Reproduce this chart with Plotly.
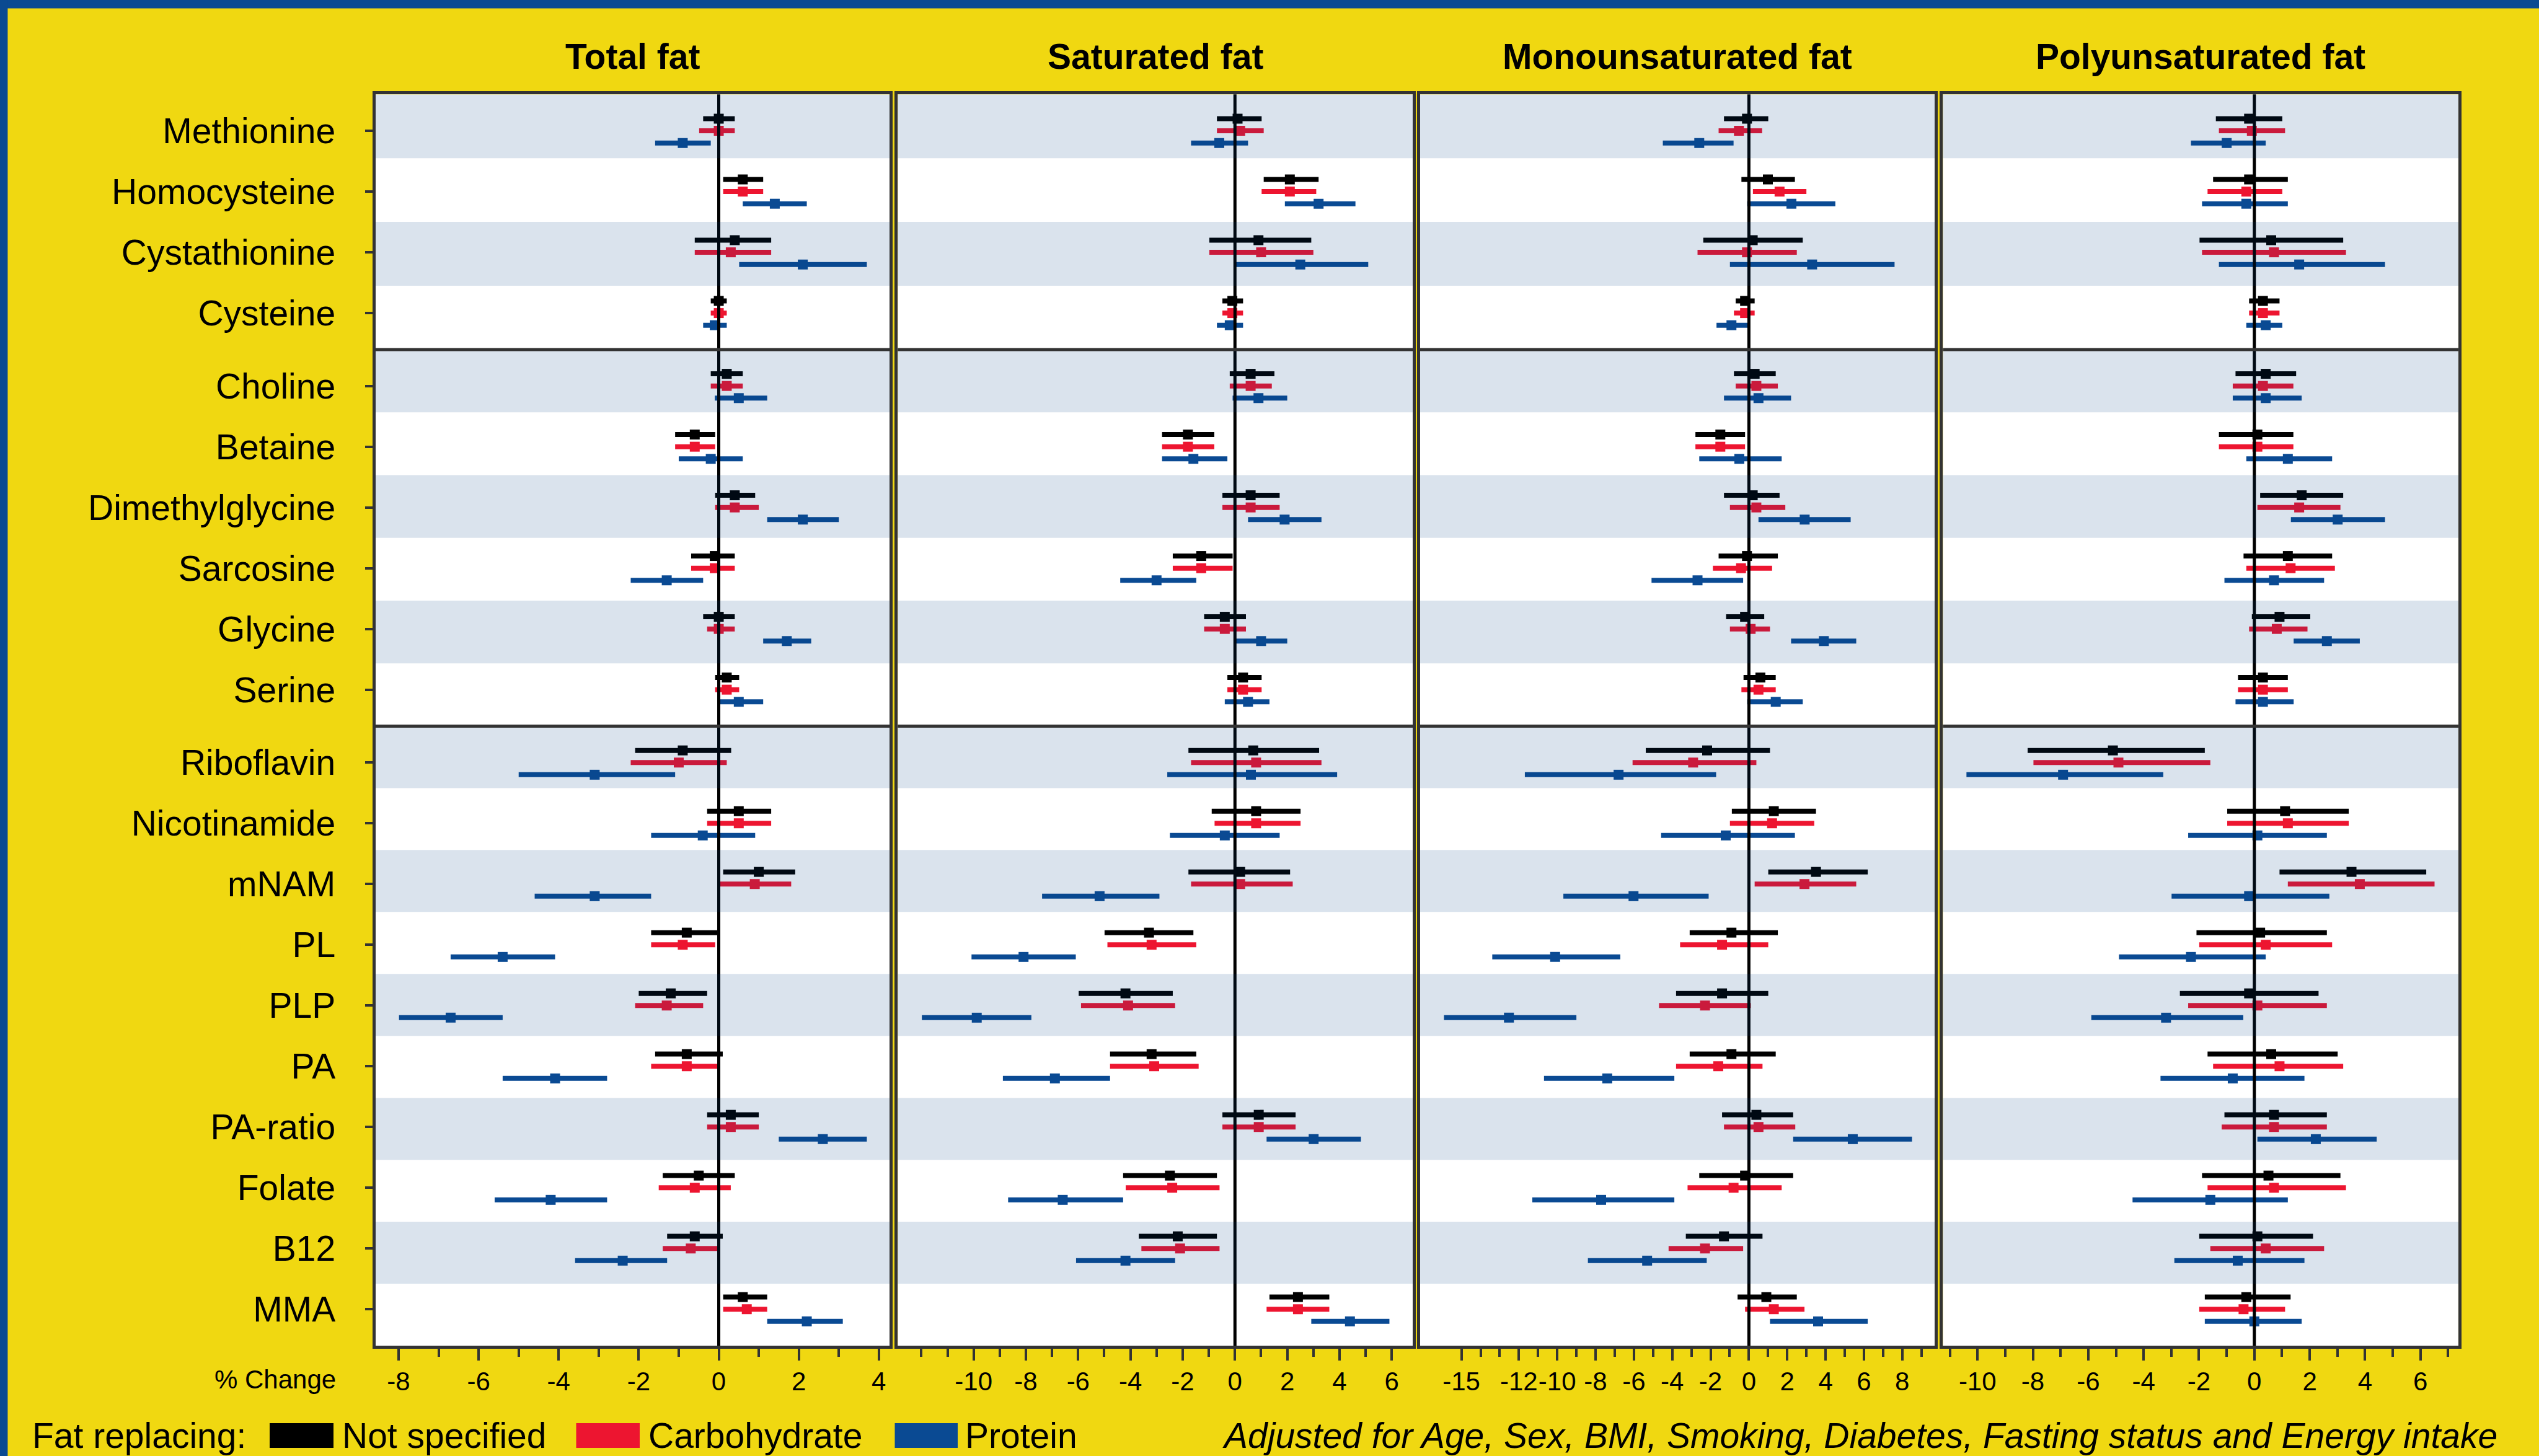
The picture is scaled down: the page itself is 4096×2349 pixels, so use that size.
import plotly.graph_objects as go

# ---------------------------------------------------------------- data
metabolite_groups = [
    ["Methionine", "Homocysteine", "Cystathionine", "Cysteine"],
    ["Choline", "Betaine", "Dimethylglycine", "Sarcosine", "Glycine", "Serine"],
    ["Riboflavin", "Nicotinamide", "mNAM", "PL", "PLP", "PA", "PA-ratio",
     "Folate", "B12", "MMA"],
]
panel_titles = ["Total fat", "Saturated fat", "Monounsaturated fat", "Polyunsaturated fat"]
replacement_names = ["Not specified", "Carbohydrate", "Protein"]

# % change: (estimate, lower 95% CI, upper 95% CI) per metabolite
total_not_specified = [
    (0.0, -0.39, 0.40), (0.6, 0.11, 1.11), (0.4, -0.6, 1.31), (0.0, -0.2, 0.2),
    (0.2, -0.2, 0.6), (-0.6, -1.09, -0.09), (0.4, -0.09, 0.91), (-0.1, -0.69, 0.4),
    (0.0, -0.39, 0.4), (0.2, -0.09, 0.51), (-0.9, -2.09, 0.31), (0.5, -0.29, 1.31),
    (1.0, 0.11, 1.91), (-0.8, -1.69, -0.03), (-1.2, -2.0, -0.29), (-0.8, -1.59, 0.1),
    (0.3, -0.29, 1.0), (-0.5, -1.4, 0.4), (-0.6, -1.29, 0.1), (0.6, 0.11, 1.21),
]
total_carbohydrate = [
    (0.0, -0.49, 0.40), (0.6, 0.11, 1.11), (0.3, -0.6, 1.31), (0.0, -0.2, 0.2),
    (0.2, -0.2, 0.6), (-0.6, -1.09, -0.09), (0.4, -0.09, 1.0), (-0.1, -0.69, 0.4),
    (0.0, -0.29, 0.4), (0.2, -0.09, 0.51), (-1.0, -2.2, 0.2), (0.5, -0.29, 1.31),
    (0.9, 0.01, 1.81), (-0.9, -1.69, -0.09), (-1.3, -2.09, -0.39), (-0.8, -1.69, 0.0),
    (0.3, -0.29, 1.0), (-0.6, -1.5, 0.3), (-0.7, -1.4, 0.0), (0.7, 0.11, 1.21),
]
total_protein = [
    (-0.9, -1.59, -0.2), (1.4, 0.6, 2.2), (2.1, 0.51, 3.7), (-0.1, -0.39, 0.2),
    (0.5, -0.1, 1.21), (-0.2, -1.0, 0.6), (2.1, 1.21, 3.0), (-1.3, -2.2, -0.39),
    (1.7, 1.11, 2.31), (0.5, 0.0, 1.11), (-3.1, -5.0, -1.09), (-0.4, -1.69, 0.91),
    (-3.1, -4.6, -1.69), (-5.4, -6.7, -4.09), (-6.7, -7.99, -5.4), (-4.09, -5.4, -2.79),
    (2.6, 1.5, 3.7), (-4.2, -5.6, -2.79), (-2.4, -3.59, -1.29), (2.2, 1.21, 3.1),
]

saturated_not_specified = [
    (0.1, -0.69, 1.02), (2.1, 1.1, 3.2), (0.9, -0.98, 2.92), (-0.1, -0.48, 0.31),
    (0.6, -0.2, 1.51), (-1.8, -2.79, -0.79), (0.6, -0.48, 1.71), (-1.29, -2.38, -0.09),
    (-0.39, -1.18, 0.42), (0.31, -0.29, 1.02), (0.7, -1.78, 3.22), (0.81, -0.89, 2.51),
    (0.2, -1.78, 2.11), (-3.29, -4.99, -1.59), (-4.19, -5.98, -2.38), (-3.19, -4.78, -1.48),
    (0.91, -0.48, 2.32), (-2.49, -4.28, -0.69), (-2.19, -3.68, -0.69), (2.41, 1.32, 3.61),
]
saturated_carbohydrate = [
    (0.2, -0.69, 1.1), (2.1, 1.02, 3.11), (1.0, -0.98, 3.0), (-0.1, -0.48, 0.31),
    (0.6, -0.2, 1.41), (-1.8, -2.79, -0.79), (0.6, -0.48, 1.71), (-1.29, -2.38, -0.09),
    (-0.39, -1.18, 0.42), (0.31, -0.29, 1.02), (0.81, -1.68, 3.31), (0.81, -0.78, 2.51),
    (0.2, -1.68, 2.21), (-3.19, -4.88, -1.48), (-4.09, -5.89, -2.29), (-3.09, -4.78, -1.39),
    (0.91, -0.48, 2.32), (-2.4, -4.18, -0.59), (-2.1, -3.58, -0.59), (2.41, 1.21, 3.61),
]
saturated_protein = [
    (-0.6, -1.68, 0.5), (3.2, 1.91, 4.61), (2.5, 0.0, 5.1), (-0.2, -0.69, 0.31),
    (0.9, -0.09, 2.0), (-1.59, -2.79, -0.29), (1.9, 0.5, 3.31), (-3.0, -4.39, -1.48),
    (1.0, 0.0, 2.0), (0.5, -0.39, 1.32), (0.61, -2.59, 3.91), (-0.39, -2.49, 1.71),
    (-5.18, -7.38, -2.89), (-8.09, -10.08, -6.09), (-9.88, -11.98, -7.79), (-6.89, -8.88, -4.78),
    (3.01, 1.21, 4.82), (-6.59, -8.68, -4.28), (-4.19, -6.08, -2.29), (4.4, 2.92, 5.91),
]

mono_not_specified = [
    (-0.1, -1.3, 1.01), (0.99, -0.39, 2.4), (0.2, -2.38, 2.81), (-0.2, -0.69, 0.3),
    (0.3, -0.78, 1.4), (-1.49, -2.79, -0.2), (0.2, -1.3, 1.6), (-0.1, -1.58, 1.51),
    (-0.2, -1.19, 0.8), (0.6, -0.28, 1.4), (-2.18, -5.38, 1.1), (1.3, -0.89, 3.5),
    (3.5, 1.01, 6.2), (-0.91, -3.09, 1.51), (-1.4, -3.8, 1.01), (-0.91, -3.09, 1.4),
    (0.39, -1.4, 2.31), (-0.2, -2.59, 2.31), (-1.3, -3.29, 0.71), (0.91, -0.59, 2.5),
]
mono_carbohydrate = [
    (-0.52, -1.58, 0.69), (1.6, 0.21, 3.0), (-0.1, -2.68, 2.5), (-0.2, -0.78, 0.3),
    (0.39, -0.69, 1.51), (-1.49, -2.79, -0.2), (0.39, -0.99, 1.9), (-0.41, -1.88, 1.21),
    (0.09, -0.99, 1.1), (0.5, -0.39, 1.4), (-2.91, -6.07, 0.39), (1.21, -0.99, 3.41),
    (2.9, 0.3, 5.6), (-1.4, -3.59, 1.01), (-2.29, -4.69, 0.1), (-1.6, -3.8, 0.71),
    (0.5, -1.3, 2.42), (-0.8, -3.2, 1.71), (-2.29, -4.19, -0.3), (1.3, -0.2, 2.9),
]
mono_protein = [
    (-2.59, -4.49, -0.8), (2.22, -0.09, 4.51), (3.3, -0.99, 7.6), (-0.91, -1.69, 0.0),
    (0.5, -1.3, 2.2), (-0.5, -2.59, 1.71), (2.91, 0.5, 5.31), (-2.68, -5.08, -0.3),
    (3.91, 2.2, 5.6), (1.4, -0.09, 2.81), (-6.8, -11.69, -1.71), (-1.21, -4.58, 2.4),
    (-6.02, -9.68, -2.1), (-10.11, -13.39, -6.71), (-12.52, -15.91, -9.0), (-7.39, -10.69, -3.89),
    (5.42, 2.31, 8.51), (-7.71, -11.3, -3.89), (-5.31, -8.4, -2.2), (3.61, 1.1, 6.2),
]

poly_not_specified = [
    (-0.19, -1.39, 1.01), (-0.19, -1.49, 1.21), (0.61, -1.98, 3.21), (0.31, -0.19, 0.91),
    (0.41, -0.68, 1.51), (0.11, -1.28, 1.41), (1.71, 0.21, 3.21), (1.21, -0.39, 2.81),
    (0.91, -0.09, 2.02), (0.31, -0.59, 1.21), (-5.11, -8.19, -1.79), (1.11, -0.98, 3.41),
    (3.51, 0.91, 6.21), (0.21, -2.09, 2.62), (-0.19, -2.69, 2.32), (0.61, -1.69, 3.01),
    (0.71, -1.08, 2.62), (0.51, -1.89, 3.11), (0.11, -1.99, 2.12), (-0.29, -1.79, 1.31),
]
poly_carbohydrate = [
    (-0.09, -1.28, 1.11), (-0.29, -1.69, 1.01), (0.71, -1.89, 3.31), (0.31, -0.19, 0.91),
    (0.31, -0.78, 1.41), (0.11, -1.28, 1.41), (1.62, 0.11, 3.11), (1.31, -0.29, 2.91),
    (0.81, -0.19, 1.92), (0.31, -0.59, 1.21), (-4.91, -7.98, -1.59), (1.21, -0.98, 3.41),
    (3.81, 1.21, 6.51), (0.41, -1.99, 2.81), (0.11, -2.39, 2.62), (0.91, -1.49, 3.21),
    (0.71, -1.18, 2.62), (0.71, -1.69, 3.31), (0.41, -1.59, 2.52), (-0.39, -1.99, 1.11),
]
poly_protein = [
    (-1.0, -2.29, 0.41), (-0.29, -1.89, 1.21), (1.62, -1.28, 4.72), (0.41, -0.29, 1.01),
    (0.41, -0.78, 1.71), (1.21, -0.29, 2.81), (3.01, 1.32, 4.72), (0.71, -1.08, 2.52),
    (2.62, 1.42, 3.81), (0.31, -0.68, 1.42), (-6.91, -10.4, -3.29), (0.11, -2.39, 2.62),
    (-0.19, -2.99, 2.71), (-2.29, -4.89, 0.41), (-3.19, -5.89, -0.4), (-0.78, -3.39, 1.81),
    (2.22, 0.11, 4.42), (-1.59, -4.4, 1.21), (-0.6, -2.89, 1.81), (0.0, -1.79, 1.71),
]

# labelled ticks and axis limits of each panel
total_ticks = [-8, -6, -4, -2, 0, 2, 4]
saturated_ticks = [-10, -8, -6, -4, -2, 0, 2, 4, 6]
mono_ticks = [-15, -12, -10, -8, -6, -4, -2, 0, 2, 4, 6, 8]
poly_ticks = [-10, -8, -6, -4, -2, 0, 2, 4, 6]
total_range = [-8.58, 4.27]
saturated_range = [-12.9, 6.81]
mono_range = [-17.16, 9.70]
poly_range = [-11.25, 7.37]

# ---------------------------------------------------------------- style
W, H = 4096, 2349
YELLOW = "#F0D811"
FRAME_BLUE = "#0B4A91"
AXIS_GREY = "#333333"
COLORS = ["#000000", "#ED1530", "#0A4A93"]
FONT = "Liberation Sans, Arial, Helvetica, sans-serif"
LABEL_SIZE = 57
TICK_SIZE = 42


def fx(px):
    return px / W


def fy(px):
    return 1 - px / H


x_domains = [
    [fx(605.6), fx(1435.2)],
    [fx(1448.4), fx(2279.4)],
    [fx(2290.8), fx(3121.3)],
    [fx(3134.4), fx(3965.9)],
]
y_domain = [fy(2171), fy(152.3)]

panels = [
    ([total_not_specified, total_carbohydrate, total_protein], total_ticks, total_range),
    ([saturated_not_specified, saturated_carbohydrate, saturated_protein], saturated_ticks, saturated_range),
    ([mono_not_specified, mono_carbohydrate, mono_protein], mono_ticks, mono_range),
    ([poly_not_specified, poly_carbohydrate, poly_protein], poly_ticks, poly_range),
]

# ---------------------------------------------------------------- row geometry
GROUP_GAP = 0.2     # extra space between metabolite groups
END_PAD = 0.6       # space above the first and below the last row
row_offsets = [-0.2, 0.0, 0.2]  # vertical dodge of the three replacements

metabolites, row_pos, group_spans = [], [], []
for g, names in enumerate(metabolite_groups):
    start = len(metabolites) + g * GROUP_GAP
    for k, name in enumerate(names):
        metabolites.append(name)
        row_pos.append(start + k)
for g, names in enumerate(metabolite_groups):
    first = row_pos[sum(len(n) for n in metabolite_groups[:g])]
    last = first + len(names) - 1
    top = first - (END_PAD if g == 0 else 0.5 + GROUP_GAP / 2)
    bottom = last + (END_PAD if g == len(metabolite_groups) - 1 else 0.5 + GROUP_GAP / 2)
    group_spans.append((top, bottom, len(names)))
y_range = [group_spans[-1][1], group_spans[0][0]]
separators = [span[1] for span in group_spans[:-1]]

fig = go.Figure()
shapes = []
annotations = []
layout_axes = {}

for p, (series, ticks, xr) in enumerate(panels):
    n = "" if p == 0 else str(p + 1)
    xa, ya = "x" + n, "y" + n
    for s, rows in enumerate(series):
        est = [r[0] for r in rows]
        lo = [r[1] for r in rows]
        hi = [r[2] for r in rows]
        fig.add_trace(go.Scatter(
            x=est,
            y=[y + row_offsets[s] for y in row_pos],
            mode="markers",
            marker=dict(symbol="square", size=16, color=COLORS[s], line=dict(width=0)),
            error_x=dict(type="data", symmetric=False,
                         array=[h - e for h, e in zip(hi, est)],
                         arrayminus=[e - l for e, l in zip(est, lo)],
                         thickness=8, width=0, color=COLORS[s]),
            name=replacement_names[s],
            showlegend=False,
            xaxis=xa, yaxis=ya,
        ))

    # unlabelled unit ticks, starting at the first labelled tick (or the axis edge)
    first = min(ticks) if p == 2 else int(xr[0])
    minor_vals = [v for v in range(first, int(xr[1]) + 1) if xr[0] < v < xr[1]]
    layout_axes["xaxis" + n] = dict(
        domain=x_domains[p], range=xr, anchor=ya,
        tickmode="array", tickvals=ticks, ticktext=[str(t) for t in ticks], tickangle=0,
        ticks="outside", ticklen=19, tickwidth=4, tickcolor=AXIS_GREY,
        minor=dict(tickmode="array", tickvals=minor_vals, ticks="outside",
                   ticklen=13, tickwidth=4, tickcolor=AXIS_GREY, showgrid=False),
        showline=True, mirror=True, linecolor=AXIS_GREY, linewidth=5,
        showgrid=False, zeroline=False,
        tickfont=dict(family=FONT, size=TICK_SIZE, color="black"),
        ticklabelstandoff=-2, fixedrange=True,
    )
    yax = dict(
        domain=y_domain, range=y_range, anchor=xa,
        showline=True, mirror=True, linecolor=AXIS_GREY, linewidth=5,
        showgrid=False, zeroline=False, fixedrange=True,
    )
    if p == 0:
        yax.update(tickmode="array", tickvals=row_pos, ticktext=metabolites,
                   ticks="outside", ticklen=12, tickwidth=4, tickcolor=AXIS_GREY,
                   tickfont=dict(family=FONT, size=LABEL_SIZE, color="black"),
                   ticklabelstandoff=36)
    else:
        yax.update(matches="y", showticklabels=False, ticks="")
    layout_axes["yaxis" + n] = yax

    # reference line at zero
    shapes.append(dict(type="line", xref=xa, yref=ya + " domain", x0=0, x1=0, y0=0, y1=1,
                       line=dict(color="black", width=5), layer="above"))
    # alternating row shading (equal bands within each group), laid over the marks
    idx = 0
    for top, bottom, count in group_spans:
        h = (bottom - top) / count
        for k in range(count):
            if idx % 2 == 0:
                shapes.append(dict(type="rect", xref=xa + " domain", yref=ya, x0=0, x1=1,
                                   y0=top + k * h, y1=top + (k + 1) * h,
                                   fillcolor="rgb(0,62,131)", opacity=0.145,
                                   line=dict(width=0), layer="above"))
            idx += 1
    # group separators
    for yb in separators:
        shapes.append(dict(type="line", xref=xa + " domain", yref=ya, x0=0, x1=1,
                           y0=yb, y1=yb, line=dict(color=AXIS_GREY, width=5), layer="above"))
    # panel title
    annotations.append(dict(text="<b>%s</b>" % panel_titles[p], xref="paper", yref="paper",
                            x=sum(x_domains[p]) / 2, y=fy(91), xanchor="center", yanchor="middle",
                            showarrow=False, font=dict(family=FONT, size=LABEL_SIZE, color="black")))

# frame strips at top and left
shapes.append(dict(type="rect", xref="paper", yref="paper", x0=0, x1=1, y0=fy(13.5), y1=1,
                   fillcolor=FRAME_BLUE, line=dict(width=0), layer="above"))
shapes.append(dict(type="rect", xref="paper", yref="paper", x0=0, x1=fx(12.4), y0=0, y1=1,
                   fillcolor=FRAME_BLUE, line=dict(width=0), layer="above"))

# axis caption
annotations.append(dict(text="% Change", xref="paper", yref="paper", x=fx(543.6), y=fy(2225),
                        xanchor="right", yanchor="middle", showarrow=False,
                        font=dict(family=FONT, size=TICK_SIZE, color="black")))

# legend row
legend_y = 2316
annotations.append(dict(text="Fat replacing:", xref="paper", yref="paper", x=fx(49.5), y=fy(legend_y),
                        xanchor="left", yanchor="middle", showarrow=False,
                        font=dict(family=FONT, size=LABEL_SIZE, color="black")))
legend_boxes = [(435, 538, 550), (929.5, 1032, 1044), (1443.5, 1545, 1554.6)]
for s, (x0, x1, xt) in enumerate(legend_boxes):
    shapes.append(dict(type="rect", xref="paper", yref="paper", x0=fx(x0), x1=fx(x1),
                       y0=fy(legend_y + 20), y1=fy(legend_y - 20),
                       fillcolor=COLORS[s], line=dict(width=0), layer="above"))
    annotations.append(dict(text=replacement_names[s], xref="paper", yref="paper", x=fx(xt),
                            y=fy(legend_y), xanchor="left", yanchor="middle", showarrow=False,
                            font=dict(family=FONT, size=LABEL_SIZE, color="black")))
annotations.append(dict(
    text="<i>Adjusted for Age, Sex, BMI, Smoking, Diabetes, Fasting status and Energy intake</i>",
    xref="paper", yref="paper", x=fx(4031), y=fy(legend_y), xanchor="right", yanchor="middle",
    showarrow=False, font=dict(family=FONT, size=LABEL_SIZE, color="black")))

fig.update_layout(
    width=W, height=H, autosize=False,
    margin=dict(l=0, r=0, t=0, b=0, pad=0),
    paper_bgcolor=YELLOW, plot_bgcolor="white",
    font=dict(family=FONT, color="black"),
    shapes=shapes, annotations=annotations,
    showlegend=False, hovermode=False,
    **layout_axes,
)

fig.write_html("out.html")
